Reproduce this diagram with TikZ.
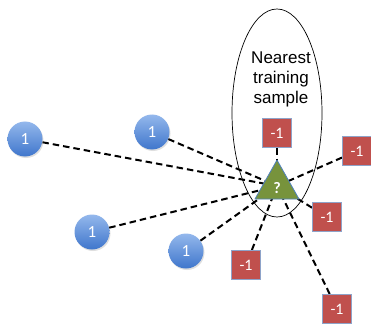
\documentclass[tikz,border=0pt]{standalone}
\usepackage{fontspec}
\setmainfont{Liberation Sans}
\newfontfamily\labfont{Carlito}
\usetikzlibrary{shadows}
\pgfdeclarelayer{back}
\pgfsetlayers{back,main}
\definecolor{boxred}{HTML}{C0504D}
\definecolor{boxedge}{HTML}{8EA3C9}
\definecolor{triolive}{HTML}{77933C}
\definecolor{triedge}{HTML}{4F81BD}
\definecolor{cirtop}{HTML}{94B8EC}
\definecolor{cirbot}{HTML}{3F76CC}
\tikzset{
  pos1/.style={circle, minimum size=35pt, inner sep=0pt, top color=cirtop, bottom color=cirbot,
    draw=none, text=white, font=\labfont\fontsize{17}{17}\selectfont,
    drop shadow={shadow xshift=1pt, shadow yshift=-1.5pt, opacity=0.25}},
  neg1/.style={rectangle, minimum size=29pt, inner sep=0pt, fill=boxred, draw=boxedge, line width=1pt,
    text=white, font=\labfont\fontsize{16}{16}\selectfont},
  link/.style={line width=2pt, dash pattern=on 6.5pt off 4pt},
}
\begin{document}
\begin{tikzpicture}[x=1pt,y=-1pt]
\useasboundingbox (0,0) rectangle (371,323);
\node[font=\fontsize{17}{20}\selectfont, align=center] (lbl) at (281,79) {Nearest\\training\\sample};
\coordinate (c) at (277,186);
\node[pos1] (p1) at (25,139) {1};
\node[pos1] (p2) at (152,132) {1};
\node[pos1] (p3) at (92,232) {1};
\node[pos1] (p4) at (186,251) {1};
\node[neg1] (n1) at (277,133) {-1};
\node[neg1] (n2) at (357,151) {-1};
\node[neg1] (n3) at (327,217) {-1};
\node[neg1] (n4) at (246,265) {-1};
\node[neg1] (n5) at (337,309) {-1};
\begin{pgfonlayer}{back}
  \draw[line width=0.7pt] (277,113) ellipse [x radius=45, y radius=104];
  \foreach \n in {p1,p2,p3,p4,n1,n2,n3,n4,n5}{
    \draw[link] (\n) -- (c);
  }
\end{pgfonlayer}
\draw[fill=triolive, draw=triedge, line width=0.8pt, line join=round] (277,160) -- (299,199) -- (255,199) -- cycle;
\node[text=white, font=\labfont\fontsize{16}{16}\selectfont\bfseries] (q) at (277,188) {?};
\end{tikzpicture}
\end{document}
